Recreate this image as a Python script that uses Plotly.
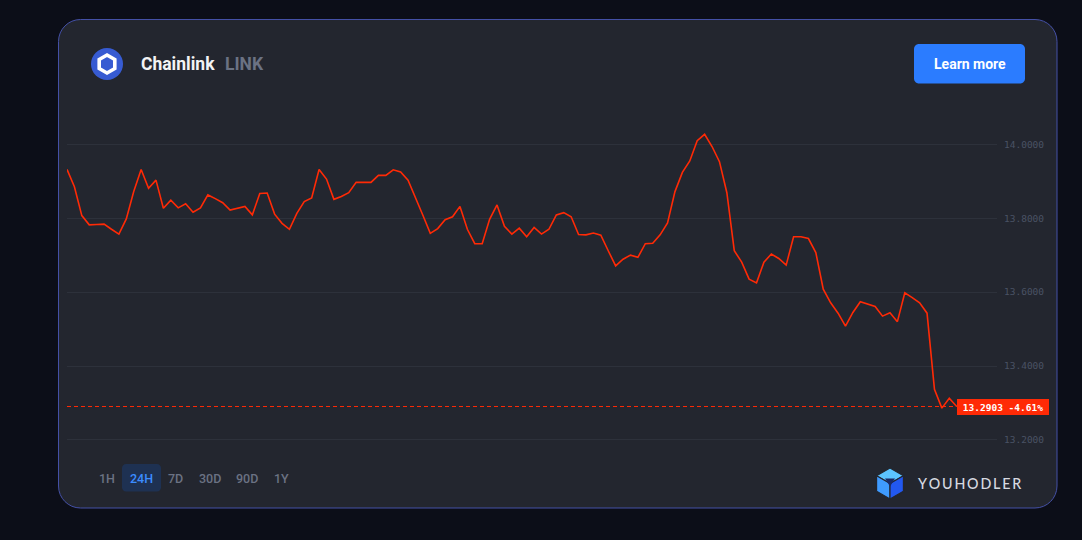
import math
import plotly.graph_objects as go

# ---------------- data ----------------
prices = [
    13.932, 13.885, 13.807, 13.782, 13.783, 13.784, 13.770, 13.757, 13.798, 13.872,
    13.932, 13.881, 13.903, 13.827, 13.849, 13.828, 13.839, 13.816, 13.828, 13.863,
    13.853, 13.842, 13.822, 13.826, 13.832, 13.809, 13.867, 13.868, 13.811, 13.786,
    13.770, 13.813, 13.845, 13.855, 13.932, 13.906, 13.851, 13.859, 13.869, 13.897,
    13.896, 13.897, 13.916, 13.916, 13.931, 13.925, 13.903, 13.857, 13.808, 13.759,
    13.772, 13.796, 13.804, 13.832, 13.770, 13.731, 13.731, 13.797, 13.836, 13.778,
    13.757, 13.773, 13.750, 13.775, 13.757, 13.770, 13.809, 13.815, 13.804, 13.756,
    13.755, 13.760, 13.754, 13.712, 13.671, 13.689, 13.700, 13.694, 13.731, 13.732,
    13.755, 13.787, 13.872, 13.924, 13.955, 14.010, 14.027, 13.994, 13.953, 13.869,
    13.712, 13.681, 13.635, 13.625, 13.681, 13.703, 13.691, 13.673, 13.750, 13.750,
    13.745, 13.707, 13.608, 13.571, 13.543, 13.508, 13.545, 13.574, 13.568, 13.561,
    13.535, 13.544, 13.520, 13.598, 13.585, 13.571, 13.543, 13.337, 13.286, 13.313,
    13.2903,
]
steps = list(range(len(prices)))
y_ticks = [13.2, 13.4, 13.6, 13.8, 14.0]
last_price = 13.2903
change_pct = -4.61
coin_name = "Chainlink"
coin_ticker = "LINK"
ranges = ["1H", "24H", "7D", "30D", "90D", "1Y"]
active_range = "24H"

# ---------------- layout geometry ----------------
W, H = 1082, 540
L, R, T, B = 67, 85, 110, 90
PW, PH = W - L - R, H - T - B

PAGE = "#0c0e18"
CARD = "#23262f"
BORDER = "#4450a6"
RED = "#ff2a06"
GRID = "#2d313b"
MUTED = "#6b7283"


def fx(px):
    return (px - L) / PW


def fy(py):
    return (H - B - py) / PH


def rrect(x0, y0, x1, y1, r):
    k = 0.5523 * r
    pts = [
        f"M{fx(x0 + r)},{fy(y0)}",
        f"L{fx(x1 - r)},{fy(y0)}",
        f"C{fx(x1 - r + k)},{fy(y0)} {fx(x1)},{fy(y0 + r - k)} {fx(x1)},{fy(y0 + r)}",
        f"L{fx(x1)},{fy(y1 - r)}",
        f"C{fx(x1)},{fy(y1 - r + k)} {fx(x1 - r + k)},{fy(y1)} {fx(x1 - r)},{fy(y1)}",
        f"L{fx(x0 + r)},{fy(y1)}",
        f"C{fx(x0 + r - k)},{fy(y1)} {fx(x0)},{fy(y1 - r + k)} {fx(x0)},{fy(y1 - r)}",
        f"L{fx(x0)},{fy(y0 + r)}",
        f"C{fx(x0)},{fy(y0 + r - k)} {fx(x0 + r - k)},{fy(y0)} {fx(x0 + r)},{fy(y0)}",
        "Z",
    ]
    return " ".join(pts)


def poly(points):
    s = "M" + " L".join(f"{fx(x)},{fy(y)}" for x, y in points)
    return s + " Z"


def hex_pts(cx, cy, r):
    pts = []
    for a in [90, 30, -30, -90, -150, 150]:
        t = math.radians(a)
        pts.append((cx + r * math.cos(t), cy - r * math.sin(t)))
    return pts


shapes = []
# card
shapes.append(dict(type="path", xref="paper", yref="paper", path=rrect(58.5, 19.5, 1057, 508, 22),
                   fillcolor=CARD, line=dict(color=BORDER, width=1), layer="below"))
# chainlink logo
cx, cy = 107, 64
shapes.append(dict(type="circle", xref="paper", yref="paper",
                   x0=fx(cx - 16), x1=fx(cx + 16), y0=fy(cy + 16), y1=fy(cy - 16),
                   fillcolor="#375bd2", line=dict(width=0), layer="above"))
shapes.append(dict(type="path", xref="paper", yref="paper", path=poly(hex_pts(cx, cy, 9)),
                   fillcolor="rgba(0,0,0,0)", line=dict(color="white", width=3.6), layer="above"))
# learn more button
shapes.append(dict(type="path", xref="paper", yref="paper", path=rrect(914, 44, 1025, 83.5, 5),
                   fillcolor="#2b7cff", line=dict(width=0), layer="above"))
# active range button
shapes.append(dict(type="path", xref="paper", yref="paper", path=rrect(122, 464, 161, 491.5, 4),
                   fillcolor="#1e3152", line=dict(width=0), layer="above"))
# youhodler icon: cube faces
icx, icy, ir = 890, 483.5, 15.5
hp = hex_pts(icx, icy, ir)
top, ur, lr, bot, ll, ul = hp
c = (icx, icy)
shapes.append(dict(type="path", xref="paper", yref="paper", path=poly([top, ur, c, ul]),
                   fillcolor="#5cc4ff", line=dict(color=CARD, width=1.2), layer="above"))
shapes.append(dict(type="path", xref="paper", yref="paper", path=poly([ul, c, bot, ll]),
                   fillcolor="#3f9bff", line=dict(color=CARD, width=1.2), layer="above"))
shapes.append(dict(type="path", xref="paper", yref="paper", path=poly([ur, lr, bot, c]),
                   fillcolor="#2258f0", line=dict(color=CARD, width=1.2), layer="above"))
# inner notch
shapes.append(dict(type="path", xref="paper", yref="paper",
                   path=poly([(icx - 5, icy - 5), (icx + 5, icy - 5), (icx, icy + 3)]),
                   fillcolor="#1a2a66", line=dict(width=0), layer="above"))
# dashed last-price line
shapes.append(dict(type="line", xref="x", yref="y", x0=steps[0], x1=steps[-1],
                   y0=last_price, y1=last_price, line=dict(color=RED, width=1, dash="4px,3px"),
                   layer="above"))

annotations = []
annotations.append(dict(x=fx(139), y=fy(64), xref="paper", yref="paper", text=coin_name,
                        xanchor="left", yanchor="middle", showarrow=False,
                        font=dict(family="Roboto", size=17.5, color="#f2f3f5", weight=700)))
annotations.append(dict(x=fx(223), y=fy(64), xref="paper", yref="paper", text=coin_ticker,
                        xanchor="left", yanchor="middle", showarrow=False,
                        font=dict(family="Roboto", size=17.5, color=MUTED, weight=700)))
annotations.append(dict(x=fx(969.5), y=fy(63.5), xref="paper", yref="paper", text="Learn more",
                        xanchor="center", yanchor="middle", showarrow=False,
                        font=dict(family="Roboto", size=14, color="white", weight=700)))
btn_x = [106.7, 141.3, 175.7, 209.7, 247.3, 281]
for lbl, bx in zip(ranges, btn_x):
    annotations.append(dict(x=fx(bx), y=fy(478), xref="paper", yref="paper", text=lbl,
                            xanchor="center", yanchor="middle", showarrow=False,
                            font=dict(family="Roboto", size=12.5,
                                      color="#3b8cff" if lbl == active_range else MUTED,
                                      weight=500)))
annotations.append(dict(x=fx(915), y=fy(483), xref="paper", yref="paper",
                        text="\u2009".join("YOUHODLER"),
                        xanchor="left", yanchor="middle", showarrow=False,
                        font=dict(family="Lato", size=14.3, color="#d6d9e0", weight=500)))
annotations.append(dict(x=steps[-1], y=last_price, xref="x", yref="y",
                        text=f"{last_price:.4f} {change_pct:.2f}%",
                        xanchor="left", yanchor="middle", showarrow=False,
                        bgcolor=RED, borderpad=2, borderwidth=0, width=88, height=12,
                        font=dict(family="DejaVu Sans Mono", size=9.5, color="white", weight=700)))

fig = go.Figure()
fig.add_trace(go.Scatter(x=steps, y=prices, mode="lines",
                         line=dict(color=RED, width=1.6), hoverinfo="skip"))

px_per_step = (956.7 - L) / (len(prices) - 1)
x_max = (W - R - L) / px_per_step
px_per_unit = 369.5
y_top = 14.0 + (144.3 - T) / px_per_unit
y_bot = 14.0 - ((H - B) - 144.3) / px_per_unit

fig.update_layout(
    width=W, height=H,
    margin=dict(l=L, r=R, t=T, b=B, pad=0),
    paper_bgcolor=PAGE,
    plot_bgcolor="rgba(0,0,0,0)",
    showlegend=False,
    shapes=shapes,
    annotations=annotations,
    xaxis=dict(range=[0, x_max], showgrid=False, zeroline=False, showticklabels=False,
               showline=False, ticks=""),
    yaxis=dict(range=[y_bot, y_top], side="right", tickvals=y_ticks, tickformat=".4f",
               showgrid=True, gridcolor=GRID, gridwidth=1, zeroline=False, showline=False,
               ticks="", ticklabelstandoff=6,
               tickfont=dict(family="DejaVu Sans Mono", size=9.5, color="#4a5264")),
)

fig.write_html(
    "out.html",
    config={"displayModeBar": False},
    post_script=f"document.body.style.margin='0';document.body.style.background='{PAGE}';document.body.style.overflow='hidden';",
)
